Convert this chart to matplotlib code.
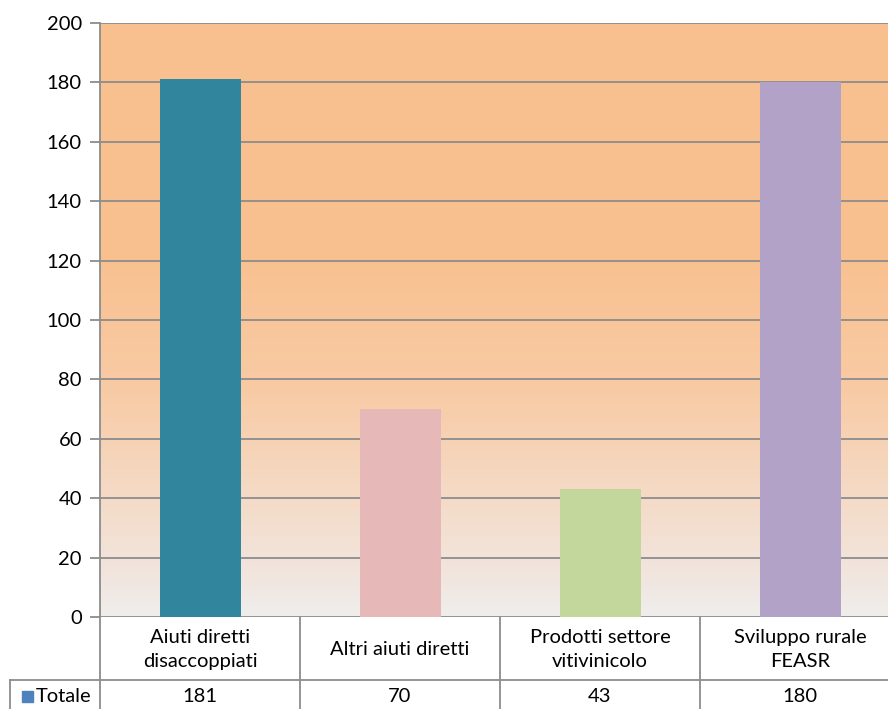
import matplotlib
matplotlib.use("Agg")
import matplotlib.pyplot as plt
import numpy as np
from matplotlib.colors import LinearSegmentedColormap
from matplotlib.patches import Rectangle

categories = ["Aiuti diretti\ndisaccoppiati", "Altri aiuti diretti",
              "Prodotti settore\nvitivinicolo", "Sviluppo rurale\nFEASR"]
values = [181, 70, 43, 180]
bar_colors = ["#31859C", "#E6B9B8", "#C3D69B", "#B3A2C7"]
series_name = "Totale"
yticks = [0, 20, 40, 60, 80, 100, 120, 140, 160, 180, 200]

plt.rcParams['font.family'] = ['Lato', 'DejaVu Sans']
W, H = 888, 709
fig = plt.figure(figsize=(W / 100, H / 100), dpi=100)
fig.patch.set_facecolor("white")

L, R, T, B = 100, 900, 23, 617
ax = fig.add_axes([L / W, 1 - B / H, (R - L) / W, (B - T) / H])
ax.set_xlim(0, len(categories))
ax.set_ylim(0, 200)

# gradient background
cmap = LinearSegmentedColormap.from_list(
    "bg", [(0, "#EFEEEC"), (0.06, "#F1E6E0"), (0.21, "#F5DAC5"), (0.38, "#F8CBA5"),
           (0.6, "#F9C190"), (1, "#F9C08F")])
grad = np.linspace(0, 1, 256).reshape(-1, 1)
ax.imshow(grad, cmap=cmap, aspect="auto", extent=[0, len(categories), 0, 200],
          origin="lower", zorder=0)

gc = "#8C8C8C"
for y in yticks:
    ax.axhline(y, color=gc, lw=1.3, zorder=1)

x = np.arange(len(categories)) + 0.5
ax.bar(x, values, width=0.405, color=bar_colors, zorder=2)

for s in ["top", "right", "bottom"]:
    ax.spines[s].set_visible(False)
ax.spines["left"].set_color(gc)
ax.spines["left"].set_linewidth(1.3)
ax.set_yticks(yticks)
ax.set_yticklabels([str(t) for t in yticks], fontsize=14.5)
ax.tick_params(axis="y", length=7, width=1.3, color=gc, pad=6)
ax.set_xticks([])

# data table
def fx(px):
    return px / W

def fy(py):
    return 1 - py / H

row1_bot = 680
col_w = (R - L) / len(categories)
lw = 1.3
fig.add_artist(plt.Line2D([fx(10), fx(R)], [fy(row1_bot), fy(row1_bot)], color=gc, lw=lw))
for i in range(len(categories) + 1):
    xp = L + i * col_w
    fig.add_artist(plt.Line2D([fx(xp), fx(xp)], [fy(B), fy(H)], color=gc, lw=lw))
fig.add_artist(plt.Line2D([fx(10), fx(10)], [fy(row1_bot), fy(H)], color=gc, lw=lw))

for i, (c, v) in enumerate(zip(categories, values)):
    xc = L + (i + 0.5) * col_w
    fig.text(fx(xc), fy((B + row1_bot) / 2 + 1), c, ha="center", va="center",
             fontsize=14.5, linespacing=1.5)
    fig.text(fx(xc), fy(697), str(v), ha="center", va="center", fontsize=14.5)

fig.add_artist(Rectangle((fx(22), fy(702)), 11 / W, 11 / H, color="#4F81BD",
                         transform=fig.transFigure))
fig.text(fx(36), fy(697), series_name, ha="left", va="center", fontsize=14.5)

fig.savefig("out.png", dpi=100)
